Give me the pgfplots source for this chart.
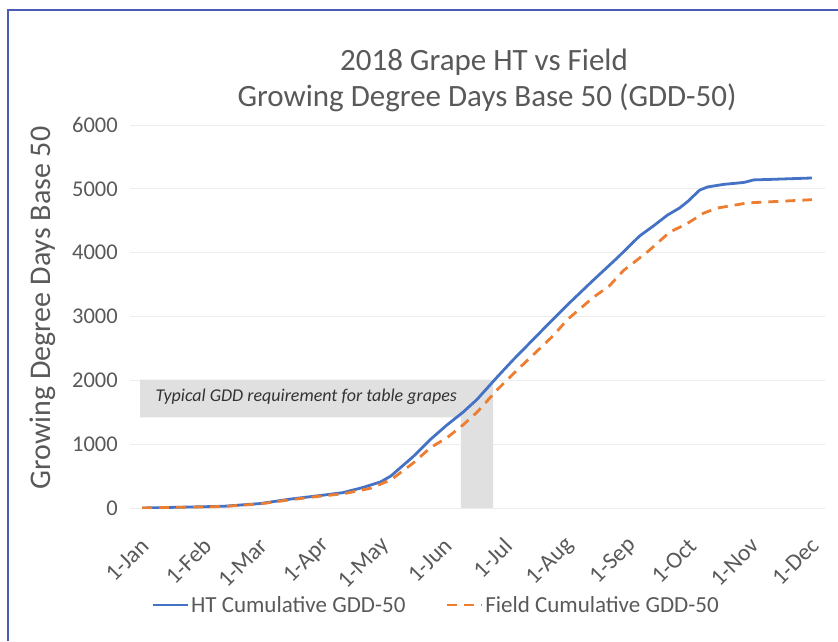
\documentclass[border=0pt]{standalone}
\usepackage{pgfplots}
\pgfplotsset{compat=1.18}
\usepackage{fontspec}
\setmainfont{Carlito}
\definecolor{htblue}{RGB}{68,114,196}
\definecolor{fieldorange}{RGB}{237,125,49}
\definecolor{txt}{RGB}{89,89,89}
\definecolor{framec}{RGB}{72,92,180}
\definecolor{shade}{RGB}{224,224,224}

\pgfplotstableread{
day gdd
0 0
15 10
31 20
41 28
59 70
74 140
90 200
100 240
110 320
119 410
124 500
135 800
144 1080
152 1300
160 1500
167 1700
177 2050
185 2320
195 2640
205 2960
212 3180
220 3420
225 3570
237 3920
248 4260
255 4420
262 4590
268 4700
272 4800
278 4980
282 5030
290 5070
300 5100
305 5140
315 5150
334 5170
}\htdata

\pgfplotstableread{
day gdd
0 0
15 10
31 18
41 24
59 65
74 130
90 190
100 220
114 310
124 440
135 700
144 950
152 1100
160 1300
167 1500
177 1850
185 2100
195 2400
205 2700
212 2950
225 3300
233 3480
240 3720
247 3890
253 4040
263 4320
272 4460
280 4620
287 4700
302 4780
315 4800
334 4830
}\fielddata

\begin{document}
\begin{tikzpicture}
\begin{axis}[
  at={(0pt,0pt)}, anchor=south west,
  scale only axis, width=695pt, height=383pt,
  xmin=-6, xmax=340.5, ymin=0, ymax=6000,
  axis line style={draw=none},
  major tick length=0pt,
  xtick={0,31,59,90,120,151,181,212,243,273,304,334},
  xticklabels={1-Jan,1-Feb,1-Mar,1-Apr,1-May,1-Jun,1-Jul,1-Aug,1-Sep,1-Oct,1-Nov,1-Dec},
  ytick={0,1000,2000,3000,4000,5000,6000},
  ymajorgrids, grid style={gray!14, line width=0.8pt},
  scaled y ticks=false,
  /pgf/number format/assume math mode=true,
  /pgf/number format/1000 sep={},
  tick label style={font=\fontsize{22.5}{26}\selectfont, text=txt},
  yticklabel style={anchor=east, inner sep=0pt, xshift=-12pt},
  xticklabel style={font=\fontsize{23.5}{27}\selectfont, xshift=3pt, yshift=-34pt, rotate=45, anchor=east, inner sep=0pt},
  legend style={at={(axis description cs:0.4403,-0.2533)}, anchor=center, draw=none, fill=none,
    legend columns=2, font=\fontsize{23}{27}\selectfont, text=txt,
    /tikz/every even column/.append style={column sep=38pt},
    nodes={inner sep=2pt}},
  legend image code/.code={\draw[#1] (0pt,0pt) -- (35pt,0pt);},
]
\addplot[fill=shade, draw=none, forget plot] coordinates {(-1,1420) (159,1420) (159,0) (175,0) (175,2010) (-1,2010)} -- cycle;
\addplot[htblue, line width=2.8pt, line join=round] table[x=day, y=gdd] {\htdata};
\addlegendentry{HT Cumulative GDD-50}
\addplot[fieldorange, line width=2.8pt, dash pattern=on 10pt off 7pt] table[x=day, y=gdd] {\fielddata};
\addlegendentry{Field Cumulative GDD-50}
\node[anchor=west, font=\itshape\fontsize{18}{21}\selectfont, text=black!80] at (axis cs:5,1740) {Typical GDD requirement for table grapes};
\end{axis}
\node[font=\fontsize{31}{36}\selectfont, text=txt] at (354pt,446pt) {2018 Grape HT vs Field};
\node[font=\fontsize{31}{36}\selectfont, text=txt] at (357pt,410pt) {Growing Degree Days Base 50 (GDD-50)};
\node[rotate=90, font=\fontsize{30}{36}\selectfont, text=txt] at (-87pt,200pt) {Growing Degree Days Base 50};
\draw[framec, line width=1.5pt] (-122pt,-133pt) -- (-122pt,498pt) -- (708pt,498pt);
\pgfresetboundingbox
\path[use as bounding box] (-130pt,-133pt) rectangle (708pt,508pt);
\end{tikzpicture}
\end{document}
